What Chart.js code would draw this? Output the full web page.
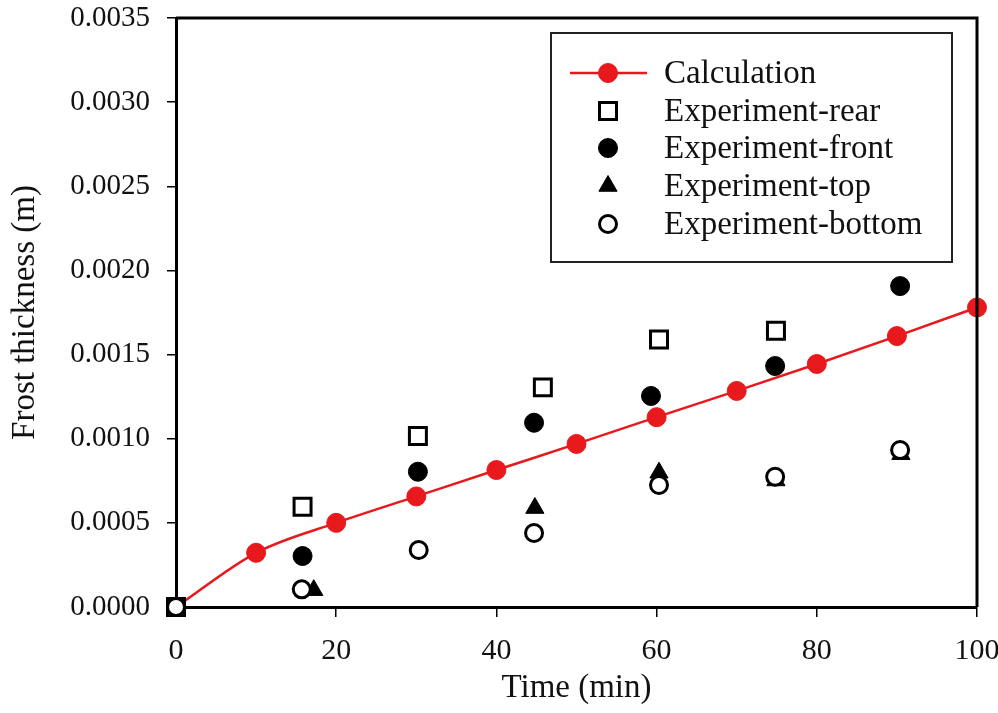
<!DOCTYPE html>
<html>
<head>
<meta charset="utf-8">
<script src="https://cdn.jsdelivr.net/npm/chart.js@4/dist/chart.umd.min.js"></script>
<style>
  html, body { margin: 0; padding: 0; background: #fff; }
  #wrap { width: 998px; height: 713px; }
</style>
</head>
<body>
<div id="wrap"><canvas id="frostChart" width="998" height="713"></canvas></div>
<script>
// ---- data ----
var calcTime = [0, 10, 20, 30, 40, 50, 60, 70, 80, 90, 100];
var calcThick = [0, 0.000322, 0.000500, 0.000657, 0.000814, 0.000969, 0.001128, 0.001284, 0.001444, 0.001610, 0.001780];

var rearTime = [0, 15.8, 30.2, 45.8, 60.3, 74.9];
var rearThick = [0, 0.000596, 0.001016, 0.001305, 0.001590, 0.001642];

var frontTime = [15.8, 30.2, 44.7, 59.3, 74.8, 90.4];
var frontThick = [0.000303, 0.000804, 0.001095, 0.001254, 0.001432, 0.001907];

var topTime = [17.2, 44.8, 60.3, 74.9, 90.5];
var topThick = [0.000100, 0.000588, 0.000798, 0.000752, 0.000908];

var bottomTime = [0, 15.7, 30.3, 44.7, 60.3, 74.8, 90.4];
var bottomThick = [0, 0.000105, 0.000339, 0.000440, 0.000725, 0.000774, 0.000933];

var yTicks = [0, 0.0005, 0.0010, 0.0015, 0.0020, 0.0025, 0.0030, 0.0035];

function pts(xs, ys) {
    return xs.map(function (x, i) { return { x: x, y: ys[i] }; });
}

var RED = "#e8191c";
var serif = "'Liberation Serif', 'Times New Roman', serif";

/* frame: top + right border lines of the plot box */
var framePlugin = {
    id: "frame",
    afterDraw: function (chart) {
        var a = chart.chartArea, ctx = chart.ctx;
        ctx.save();
        ctx.strokeStyle = "#000";
        ctx.lineWidth = 3;
        ctx.beginPath();
        ctx.moveTo(a.left, a.top);
        ctx.lineTo(a.right, a.top);
        ctx.lineTo(a.right, a.bottom);
        ctx.stroke();
        ctx.restore();
    }
};

/* legend box inside the plot, like the original figure */
var boxLegend = {
    id: "boxLegend",
    afterDraw: function (chart) {
        var ctx = chart.ctx;
        var bx = 551, by = 33, bw = 401, bh = 229;
        var rowY = [73, 111, 148, 186, 224];
        ctx.save();
        ctx.fillStyle = "#fff";
        ctx.fillRect(bx, by, bw, bh);
        ctx.strokeStyle = "#222";
        ctx.lineWidth = 2;
        ctx.strokeRect(bx, by, bw, bh);

        chart.data.datasets.forEach(function (ds, i) {
            var y = rowY[i];
            var mx = 608;
            if (ds.showLine) {
                ctx.strokeStyle = ds.borderColor;
                ctx.lineWidth = ds.borderWidth;
                ctx.beginPath();
                ctx.moveTo(570, y);
                ctx.lineTo(647, y);
                ctx.stroke();
            }
            ctx.fillStyle = ds.pointBackgroundColor;
            ctx.strokeStyle = ds.pointBorderColor;
            ctx.lineWidth = ds.pointBorderWidth;
            Chart.helpers.drawPoint(ctx, {
                pointStyle: ds.pointStyle,
                radius: ds.pointRadius,
                borderWidth: ds.pointBorderWidth,
                rotation: 0
            }, mx, y);
            ctx.fillStyle = "#111";
            ctx.font = "33px " + serif;
            ctx.textAlign = "left";
            ctx.textBaseline = "middle";
            ctx.fillText(ds.label, 664, y + 1);
        });
        ctx.restore();
    }
};

function noOverhang(s) {
    s.paddingTop = 0;
    s.paddingBottom = 0;
    s.paddingLeft = 0;
    s.paddingRight = 0;
}

var ctx1 = document.getElementById("frostChart").getContext("2d");
var frostChart = new Chart(ctx1, {
    type: "scatter",
    data: {
        datasets: [{
            label: "Calculation",
            data: pts(calcTime, calcThick),
            showLine: true,
            borderColor: RED,
            borderWidth: 2.5,
            cubicInterpolationMode: "monotone",
            pointStyle: "circle",
            pointRadius: 9.5,
            pointBackgroundColor: RED,
            pointBorderColor: RED,
            pointBorderWidth: 1,
            clip: false,
            order: 5
        }, {
            label: "Experiment-rear",
            data: pts(rearTime, rearThick),
            pointStyle: "rect",
            pointRadius: 12,
            pointBackgroundColor: "#fff",
            pointBorderColor: "#000",
            pointBorderWidth: 3,
            clip: false,
            order: 4
        }, {
            label: "Experiment-front",
            data: pts(frontTime, frontThick),
            pointStyle: "circle",
            pointRadius: 9.5,
            pointBackgroundColor: "#000",
            pointBorderColor: "#000",
            pointBorderWidth: 1,
            clip: false,
            order: 3
        }, {
            label: "Experiment-top",
            data: pts(topTime, topThick),
            pointStyle: "triangle",
            pointRadius: 10.5,
            pointBackgroundColor: "#000",
            pointBorderColor: "#000",
            pointBorderWidth: 1,
            clip: false,
            order: 2
        }, {
            label: "Experiment-bottom",
            data: pts(bottomTime, bottomThick),
            pointStyle: "circle",
            pointRadius: 8.5,
            pointBackgroundColor: "#fff",
            pointBorderColor: "#000",
            pointBorderWidth: 3,
            clip: false,
            order: 1
        }]
    },
    options: {
        responsive: false,
        animation: false,
        layout: { padding: { top: 18, right: 21, left: 0, bottom: 0 } },
        plugins: {
            legend: { display: false },
            tooltip: { enabled: false }
        },
        scales: {
            x: {
                type: "linear",
                min: 0,
                max: 100,
                afterFit: function (s) { s.height = 106; noOverhang(s); },
                ticks: {
                    stepSize: 20,
                    color: "#111",
                    padding: 16,
                    font: { family: serif, size: 30 }
                },
                grid: {
                    drawOnChartArea: false,
                    drawTicks: true,
                    tickLength: 10,
                    color: "#000",
                    lineWidth: 1.5
                },
                border: { display: true, color: "#000", width: 3 },
                title: {
                    display: true,
                    text: "Time (min)",
                    color: "#111",
                    font: { family: serif, size: 33 },
                    padding: { top: 0, bottom: 5 }
                }
            },
            y: {
                type: "linear",
                min: 0,
                max: 0.0035,
                afterFit: function (s) { s.width = 176; noOverhang(s); },
                afterBuildTicks: function (s) {
                    s.ticks = yTicks.map(function (v) { return { value: v }; });
                },
                ticks: {
                    color: "#111",
                    padding: 17,
                    font: { family: serif, size: 29 },
                    callback: function (v) { return Number(v).toFixed(4); }
                },
                grid: {
                    drawOnChartArea: false,
                    drawTicks: true,
                    tickLength: 9,
                    color: "#000",
                    lineWidth: 1.5
                },
                border: { display: true, color: "#000", width: 3 },
                title: {
                    display: true,
                    text: "Frost thickness (m)",
                    color: "#111",
                    font: { family: serif, size: 33 },
                    padding: { top: 6, bottom: 0 }
                }
            }
        }
    },
    plugins: [framePlugin, boxLegend]
});
</script>
</body>
</html>
